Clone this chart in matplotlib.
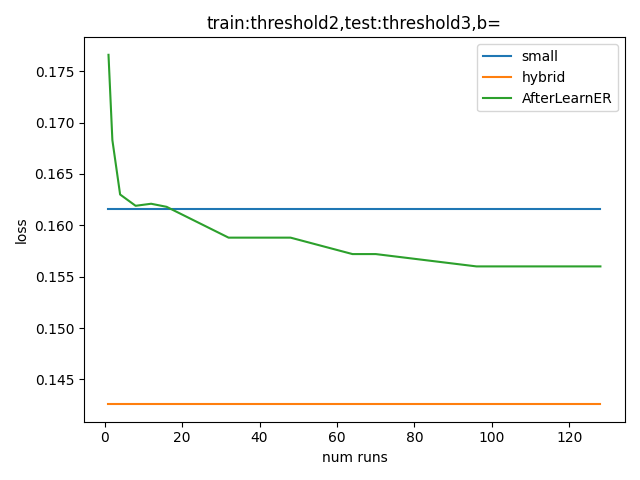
import matplotlib
matplotlib.use("Agg")
import matplotlib.pyplot as plt

# num runs for AfterLearnER
runs = [1, 2, 4, 8, 12, 16, 32, 48, 64, 70, 96, 128]
after_learn = [0.1766, 0.1683, 0.1630, 0.1619, 0.1621, 0.1618,
               0.1588, 0.1588, 0.1572, 0.1572, 0.1560, 0.1560]
small_loss = 0.16158
hybrid_loss = 0.14258

fig = plt.figure(figsize=(6.4, 4.8), dpi=100)
plt.plot([runs[0], runs[-1]], [small_loss, small_loss], label="small")
plt.plot([runs[0], runs[-1]], [hybrid_loss, hybrid_loss], label="hybrid")
plt.plot(runs, after_learn, label="AfterLearnER")
plt.title("train:threshold2,test:threshold3,b=")
plt.xlabel("num runs")
plt.ylabel("loss")
plt.legend()
plt.tight_layout()
plt.savefig("out.png")
